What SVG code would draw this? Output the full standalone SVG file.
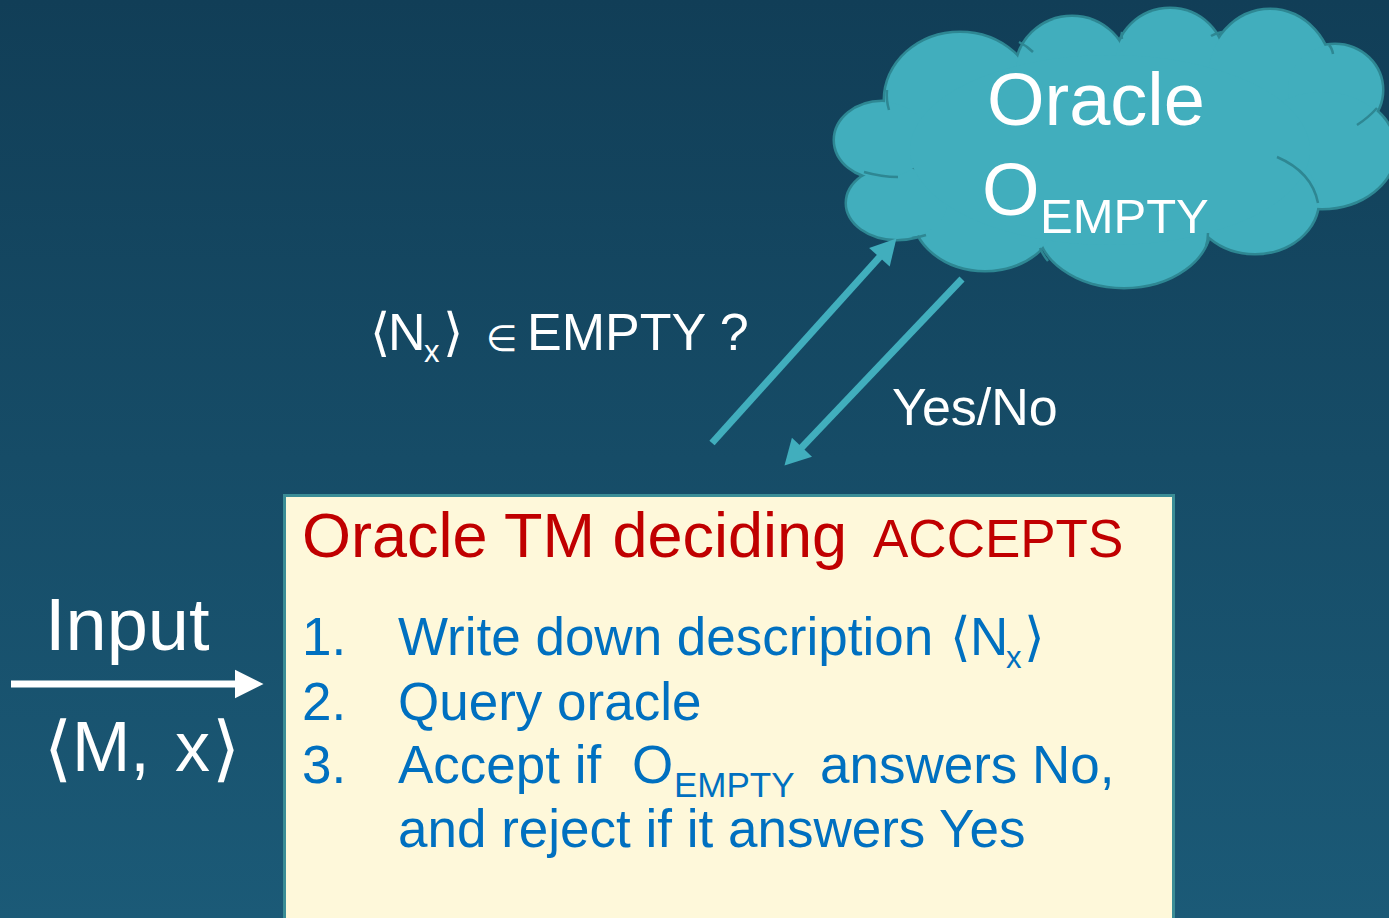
<svg xmlns="http://www.w3.org/2000/svg" width="1389" height="918" viewBox="0 0 1389 918">
<defs>
<linearGradient id="bg" x1="0" y1="0" x2="0" y2="1">
<stop offset="0" stop-color="#113E57"/>
<stop offset="1" stop-color="#1B5A77"/>
</linearGradient>
<marker id="teal" markerUnits="userSpaceOnUse" markerWidth="30" markerHeight="30" refX="8" refY="0" viewBox="0 -13 24 26" orient="auto">
<path d="M0,-12 L22,0 L0,12 z" fill="#41AEBD"/>
</marker>
<marker id="white" markerUnits="userSpaceOnUse" markerWidth="30" markerHeight="30" refX="2" refY="0" viewBox="0 -13 26 26" orient="auto">
<path d="M0,-12.5 L25,0 L0,12.5 z" fill="#FFFFFF"/>
</marker>
</defs>
<style>
text{font-family:"Liberation Sans",Arial,"DejaVu Sans",sans-serif}
.w{fill:#FFFFFF}
.red{fill:#C00000}
.blue{fill:#0070C0}
.cs{fill:#41AEBD;stroke:#2E8793;stroke-width:5}
.cf{fill:#41AEBD}
.ca{fill:none;stroke:#2E8793;stroke-width:2.5}
.tl{fill:none;stroke:#41AEBD;stroke-width:7}
.sym{font-family:"DejaVu Sans",sans-serif}
</style>
<rect x="0" y="0" width="1389" height="918" fill="url(#bg)"/>
<g id="oracle-cloud">
<g class="cs">
<ellipse cx="960" cy="100" rx="75" ry="67"/>
<ellipse cx="1072" cy="72" rx="56" ry="55"/>
<ellipse cx="1170" cy="62" rx="54" ry="53"/>
<ellipse cx="1270" cy="78" rx="62" ry="68"/>
<ellipse cx="1335" cy="90" rx="47" ry="45"/>
<ellipse cx="1322" cy="150" rx="73" ry="58"/>
<ellipse cx="1255" cy="200" rx="63" ry="53"/>
<ellipse cx="1124" cy="225" rx="86" ry="62"/>
<ellipse cx="985" cy="212" rx="72" ry="58"/>
<ellipse cx="897" cy="203" rx="50" ry="36"/>
<ellipse cx="882" cy="140" rx="47" ry="38"/>
</g>
<g class="cf">
<ellipse cx="960" cy="100" rx="75" ry="67"/>
<ellipse cx="1072" cy="72" rx="56" ry="55"/>
<ellipse cx="1170" cy="62" rx="54" ry="53"/>
<ellipse cx="1270" cy="78" rx="62" ry="68"/>
<ellipse cx="1335" cy="90" rx="47" ry="45"/>
<ellipse cx="1322" cy="150" rx="73" ry="58"/>
<ellipse cx="1255" cy="200" rx="63" ry="53"/>
<ellipse cx="1124" cy="225" rx="86" ry="62"/>
<ellipse cx="985" cy="212" rx="72" ry="58"/>
<ellipse cx="897" cy="203" rx="50" ry="36"/>
<ellipse cx="882" cy="140" rx="47" ry="38"/>
<ellipse cx="1110" cy="150" rx="200" ry="95"/>
</g>
<g class="ca">
<path d="M887,90 Q886,100 889,110"/>
<path d="M864,172 Q882,177 898,177"/>
<path d="M912,238 Q920,237 926,235"/>
<path d="M1040,248 Q1043,255 1048,261"/>
<path d="M1208,233 Q1208,240 1206,246"/>
<path d="M1277,157 Q1312,172 1318,203"/>
<path d="M1357,125 Q1368,118 1377,108"/>
<path d="M1329,45 Q1332,48 1333,54"/>
<path d="M1211,36 Q1216,33 1222,32"/>
<path d="M1122,32 Q1121,35 1122,39"/>
<path d="M1019,42 Q1027,46 1033,52"/>
</g>
<text class="w" x="987" y="125" font-size="74">Oracle</text>
<text class="w" x="982" y="215" font-size="74">O</text>
<text class="w" x="1040" y="233" font-size="49">EMPTY</text>
</g>
<g id="oracle-tm">
<rect x="284.5" y="495.5" width="889" height="440" fill="#FEF8DA" stroke="#3B8D96" stroke-width="3"/>
<text class="red" x="302" y="557" font-size="63">Oracle TM deciding</text>
<text class="red" x="873" y="557" font-size="53">ACCEPTS</text>
<g class="blue" font-size="53">
<text x="302" y="655">1.</text>
<text x="398" y="655">Write down description</text>
<text x="950" y="655">⟨</text>
<text x="970" y="655">N</text>
<text x="1006" y="668" font-size="31">x</text>
<text x="1024" y="655">⟩</text>
<text x="302" y="720">2.</text>
<text x="398" y="720">Query oracle</text>
<text x="302" y="783">3.</text>
<text x="398" y="783">Accept if</text>
<text x="632" y="783">O</text>
<text x="674" y="797" font-size="35">EMPTY</text>
<text x="820" y="783">answers No,</text>
<text x="398" y="847">and reject if it answers Yes</text>
</g>
</g>
<g id="input-label">
<text class="w" x="45" y="650" font-size="74">Input</text>
<text class="w" x="44" y="773" font-size="72">⟨</text>
<text class="w" x="72" y="771" font-size="70">M,</text>
<text class="w" x="175" y="771" font-size="70">x</text>
<text class="w" x="212" y="773" font-size="72">⟩</text>
</g>
<g id="query-label">
<text class="w" x="370" y="350" font-size="52">⟨</text>
<text class="w" x="388" y="350" font-size="52">N</text>
<text class="w" x="424" y="362" font-size="31">x</text>
<text class="w" x="443" y="350" font-size="52">⟩</text>
<text class="w sym" x="486" y="351" font-size="36">∈</text>
<text class="w" x="527" y="350" font-size="52">EMPTY ?</text>
</g>
<g id="answer-label">
<text class="w" x="892" y="425" font-size="52">Yes/No</text>
</g>
<g id="connectors">
<path d="M11,684 L237,684" fill="none" stroke="#FFFFFF" stroke-width="7" marker-end="url(#white)"/>
<path class="tl" d="M712,443 L885.6,250.4" marker-end="url(#teal)"/>
<path class="tl" d="M962,279 L795.6,453.9" marker-end="url(#teal)"/>
</g>
</svg>
